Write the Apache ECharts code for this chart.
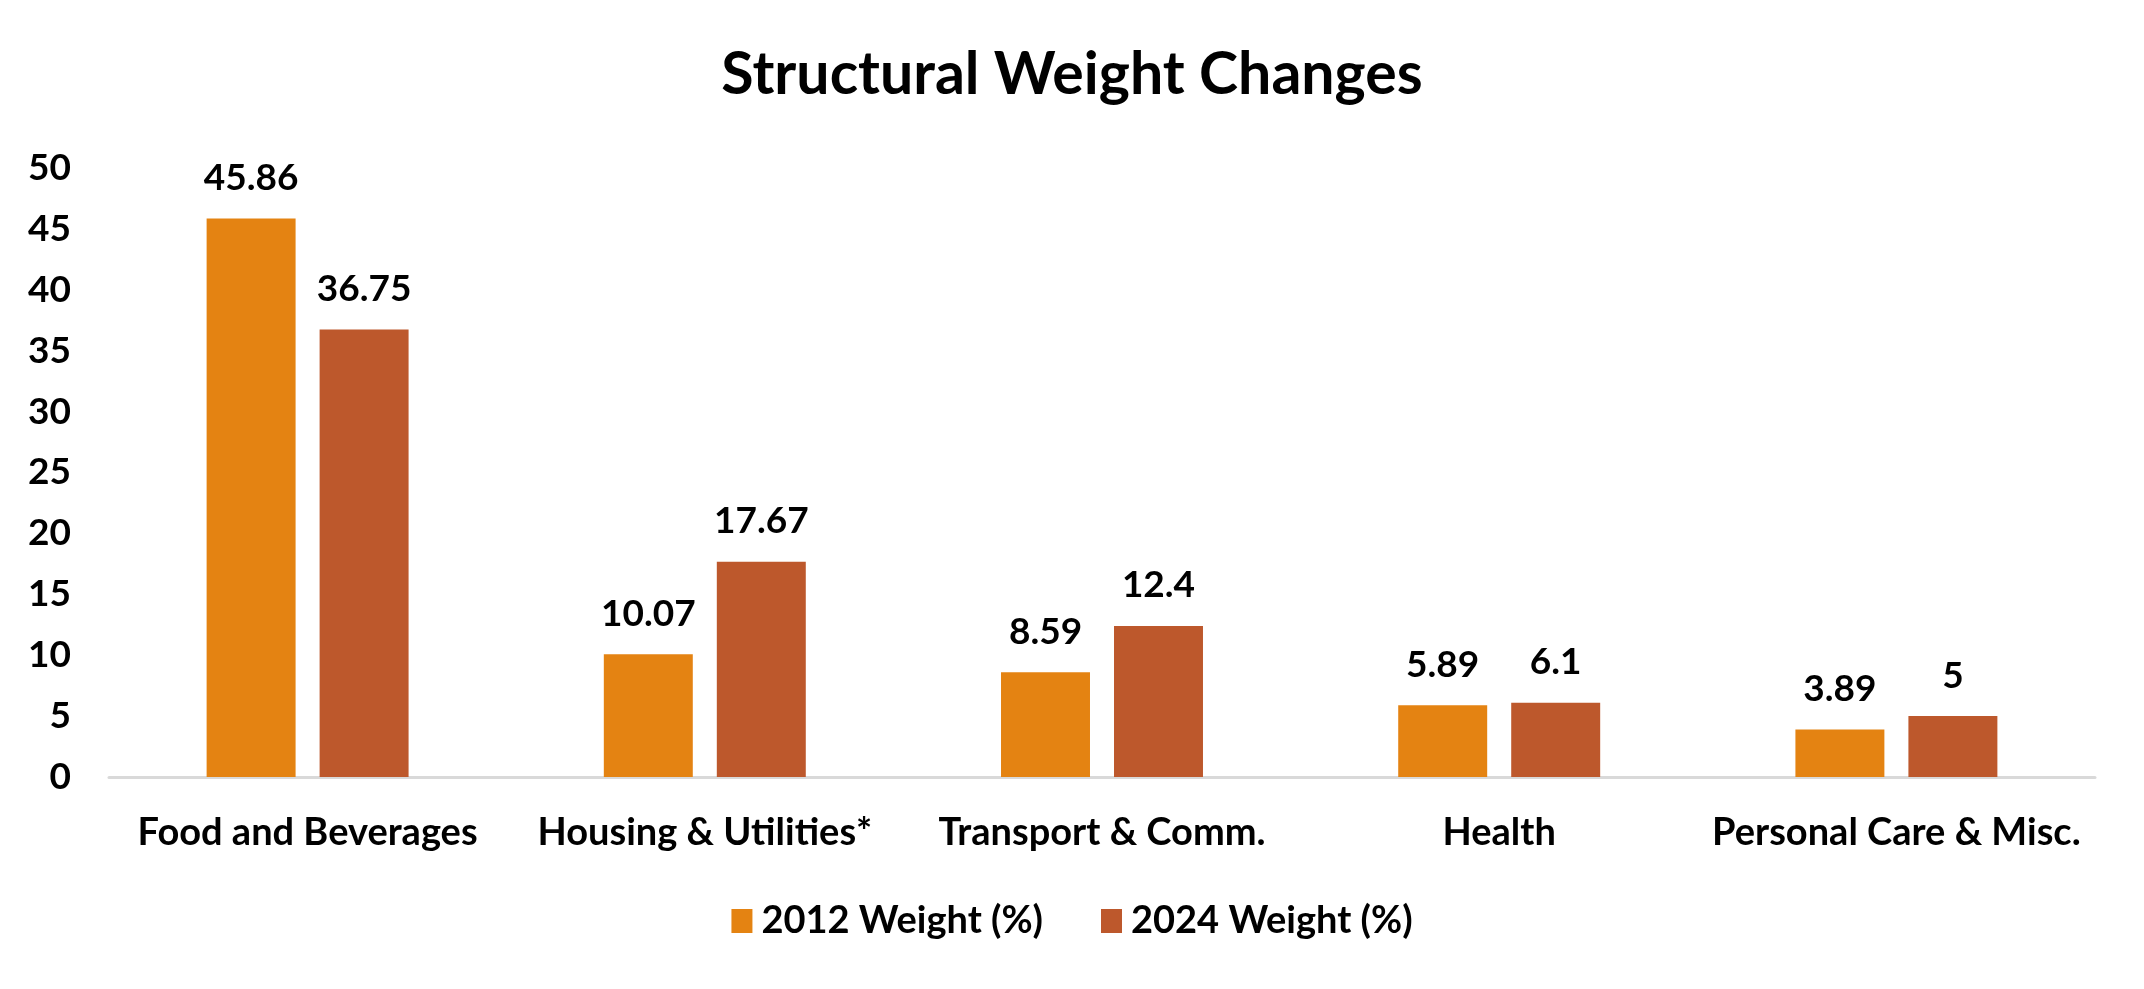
<!DOCTYPE html>
<html>
<head>
<meta charset="utf-8">
<script src="https://cdn.jsdelivr.net/npm/echarts@6/dist/echarts.min.js"></script>
<style>
html,body{margin:0;padding:0;background:#fff;}
#chart{width:2144px;height:989px;}
</style>
</head>
<body>
<div id="chart"></div>
<script>
const categories = ['Food and Beverages', 'Housing & Utilities*', 'Transport & Comm.', 'Health', 'Personal Care & Misc.'];
const weights2012 = [45.86, 10.07, 8.59, 5.89, 3.89];
const weights2024 = [36.75, 17.67, 12.4, 6.1, 5];
const seriesNames = ['2012 Weight (%)', '2024 Weight (%)'];
const yTicks = { min: 0, max: 50, interval: 5 };

const FONT = 'Lato, "Open Sans", sans-serif';
const chart = echarts.init(document.getElementById('chart'));
const labelStyle = {
  show: true, position: 'top', distance: 22,
  color: '#000', fontFamily: FONT, fontWeight: 'bold', fontSize: 37
};
chart.setOption({
  backgroundColor: '#fff',
  animation: false,
  title: {
    text: 'Structural Weight Changes',
    left: 'center', top: 40,
    textStyle: { fontFamily: FONT, fontWeight: 'bold', fontSize: 59, color: '#000' }
  },
  legend: {
    bottom: 44, left: 'center',
    itemWidth: 21, itemHeight: 24, itemGap: 58,
    icon: 'rect',
    textStyle: { fontFamily: FONT, fontWeight: 'bold', fontSize: 38, color: '#000', padding: [0, 0, 0, 4] },
    data: seriesNames
  },
  grid: { left: 109, right: 49, top: 168, bottom: 212 },
  xAxis: {
    type: 'category',
    data: categories,
    axisLine: { lineStyle: { color: '#d9d9d9', width: 3 } },
    axisTick: { show: false },
    axisLabel: { fontFamily: FONT, fontWeight: 'bold', fontSize: 38, color: '#000', margin: 37, interval: 0 }
  },
  yAxis: {
    type: 'value',
    min: yTicks.min, max: yTicks.max, interval: yTicks.interval,
    splitLine: { show: false },
    axisLine: { show: false },
    axisTick: { show: false },
    axisLabel: { fontFamily: FONT, fontWeight: 'bold', fontSize: 37, color: '#000', margin: 38 }
  },
  series: [
    { name: seriesNames[0], type: 'bar', data: weights2012, barWidth: '22.4%', barGap: '27%',
      itemStyle: { color: '#E48312' }, label: labelStyle },
    { name: seriesNames[1], type: 'bar', data: weights2024, barWidth: '22.4%',
      itemStyle: { color: '#BD582C' }, label: labelStyle }
  ]
});
</script>
</body>
</html>
